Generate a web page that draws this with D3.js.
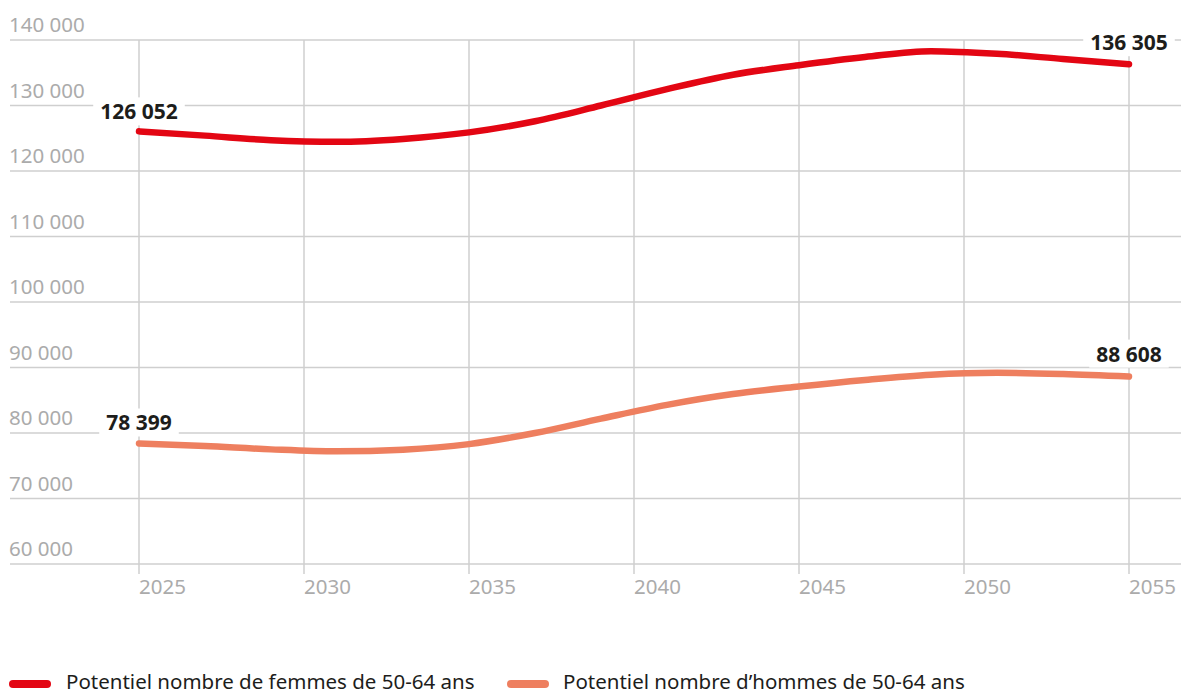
<!DOCTYPE html>
<html>
<head>
<meta charset="utf-8">
<script src="https://cdn.jsdelivr.net/npm/d3@7"></script>
<style>
  body { margin: 0; background: #fff; }
  svg { font-family: "Noto Sans", "Open Sans", sans-serif; }
</style>
</head>
<body>
<div id="chart"></div>
<script>
// données
const years = [2025, 2027, 2029, 2031, 2033, 2035, 2037, 2039, 2041, 2043, 2045, 2047, 2049, 2051, 2053, 2055];
const femmes = [126052, 125400, 124700, 124450, 124900, 125900, 127600, 130000, 132500, 134700, 136150, 137400, 138300, 137900, 137100, 136305];
const hommes = [78399, 78000, 77500, 77200, 77450, 78300, 80000, 82200, 84300, 85950, 87100, 88100, 88900, 89200, 89000, 88608];
const yTicks = [60000, 70000, 80000, 90000, 100000, 110000, 120000, 130000, 140000];
const xTicks = [2025, 2030, 2035, 2040, 2045, 2050, 2055];
const seriesNames = ["Potentiel nombre de femmes de 50-64 ans", "Potentiel nombre d\u2019hommes de 50-64 ans"];
const colors = ["#e30613", "#ee7f5f"];

const W = 1181, H = 695;
const fr = d3.formatLocale({ decimal: ",", thousands: " ", grouping: [3], currency: ["", "€"] });
const fmt = fr.format(",d");

const svg = d3.select("#chart").append("svg")
    .attr("width", W)
    .attr("height", H);

const x = d3.scaleLinear().domain([2025, 2055]).range([139, 1129]);
const y = d3.scaleLinear().domain([60000, 140000]).range([564, 40]);

// grille horizontale
svg.append("g")
    .selectAll("line")
    .data(yTicks)
    .enter().append("line")
        .attr("x1", 10).attr("x2", W)
        .attr("y1", d => y(d)).attr("y2", d => y(d))
        .attr("stroke", "#cfcfcf")
        .attr("stroke-width", 1.5);

svg.append("g")
    .selectAll("text")
    .data(yTicks)
    .enter().append("text")
        .attr("x", 9)
        .attr("y", d => y(d) - 8)
        .attr("fill", "#ababab")
        .style("font-size", "20.5px")
        .text(d => fmt(d));

// grille verticale
svg.append("g")
    .selectAll("line")
    .data(xTicks)
    .enter().append("line")
        .attr("x1", d => x(d)).attr("x2", d => x(d))
        .attr("y1", y(140000)).attr("y2", y(60000) + 10)
        .attr("stroke", "#cfcfcf")
        .attr("stroke-width", 1.5);

svg.append("g")
    .selectAll("text")
    .data(xTicks)
    .enter().append("text")
        .attr("x", d => x(d))
        .attr("y", 594)
        .attr("fill", "#ababab")
        .style("font-size", "20.5px")
        .text(d => d);

// courbes
const line = d3.line()
    .x(d => x(d[0]))
    .y(d => y(d[1]))
    .curve(d3.curveMonotoneX);

[femmes, hommes].forEach((vals, i) => {
    svg.append("path")
        .datum(years.map((yr, j) => [yr, vals[j]]))
        .attr("d", line)
        .attr("fill", "none")
        .attr("stroke", colors[i])
        .attr("stroke-width", 6.5)
        .attr("stroke-linecap", "round");
});

// étiquettes des valeurs extrêmes
const labels = [
    { yr: 2025, v: femmes[0], dy: -12 },
    { yr: 2055, v: femmes[femmes.length - 1], dy: -14 },
    { yr: 2025, v: hommes[0], dy: -13 },
    { yr: 2055, v: hommes[hommes.length - 1], dy: -15 }
];

labels.forEach(l => {
    const g = svg.append("g");
    const t = g.append("text")
        .attr("x", x(l.yr))
        .attr("y", y(l.v) + l.dy)
        .attr("text-anchor", "middle")
        .attr("fill", "#1d1d1b")
        .style("font-size", "21px")
        .style("font-weight", "bold")
        .text(fmt(l.v));
    const b = t.node().getBBox();
    g.insert("rect", "text")
        .attr("x", b.x - 7).attr("y", b.y)
        .attr("width", b.width + 14).attr("height", b.height)
        .attr("fill", "#fff");
});

// légende
const leg = [{ x: 13, tx: 66 }, { x: 511, tx: 563 }];
leg.forEach((p, i) => {
    svg.append("line")
        .attr("x1", p.x).attr("x2", p.x + 34)
        .attr("y1", 684).attr("y2", 684)
        .attr("stroke", colors[i])
        .attr("stroke-width", 8)
        .attr("stroke-linecap", "round");
    svg.append("text")
        .attr("x", p.tx)
        .attr("y", 689)
        .attr("fill", "#1d1d1b")
        .style("font-size", "20.5px")
        .text(seriesNames[i]);
});
</script>
</body>
</html>
